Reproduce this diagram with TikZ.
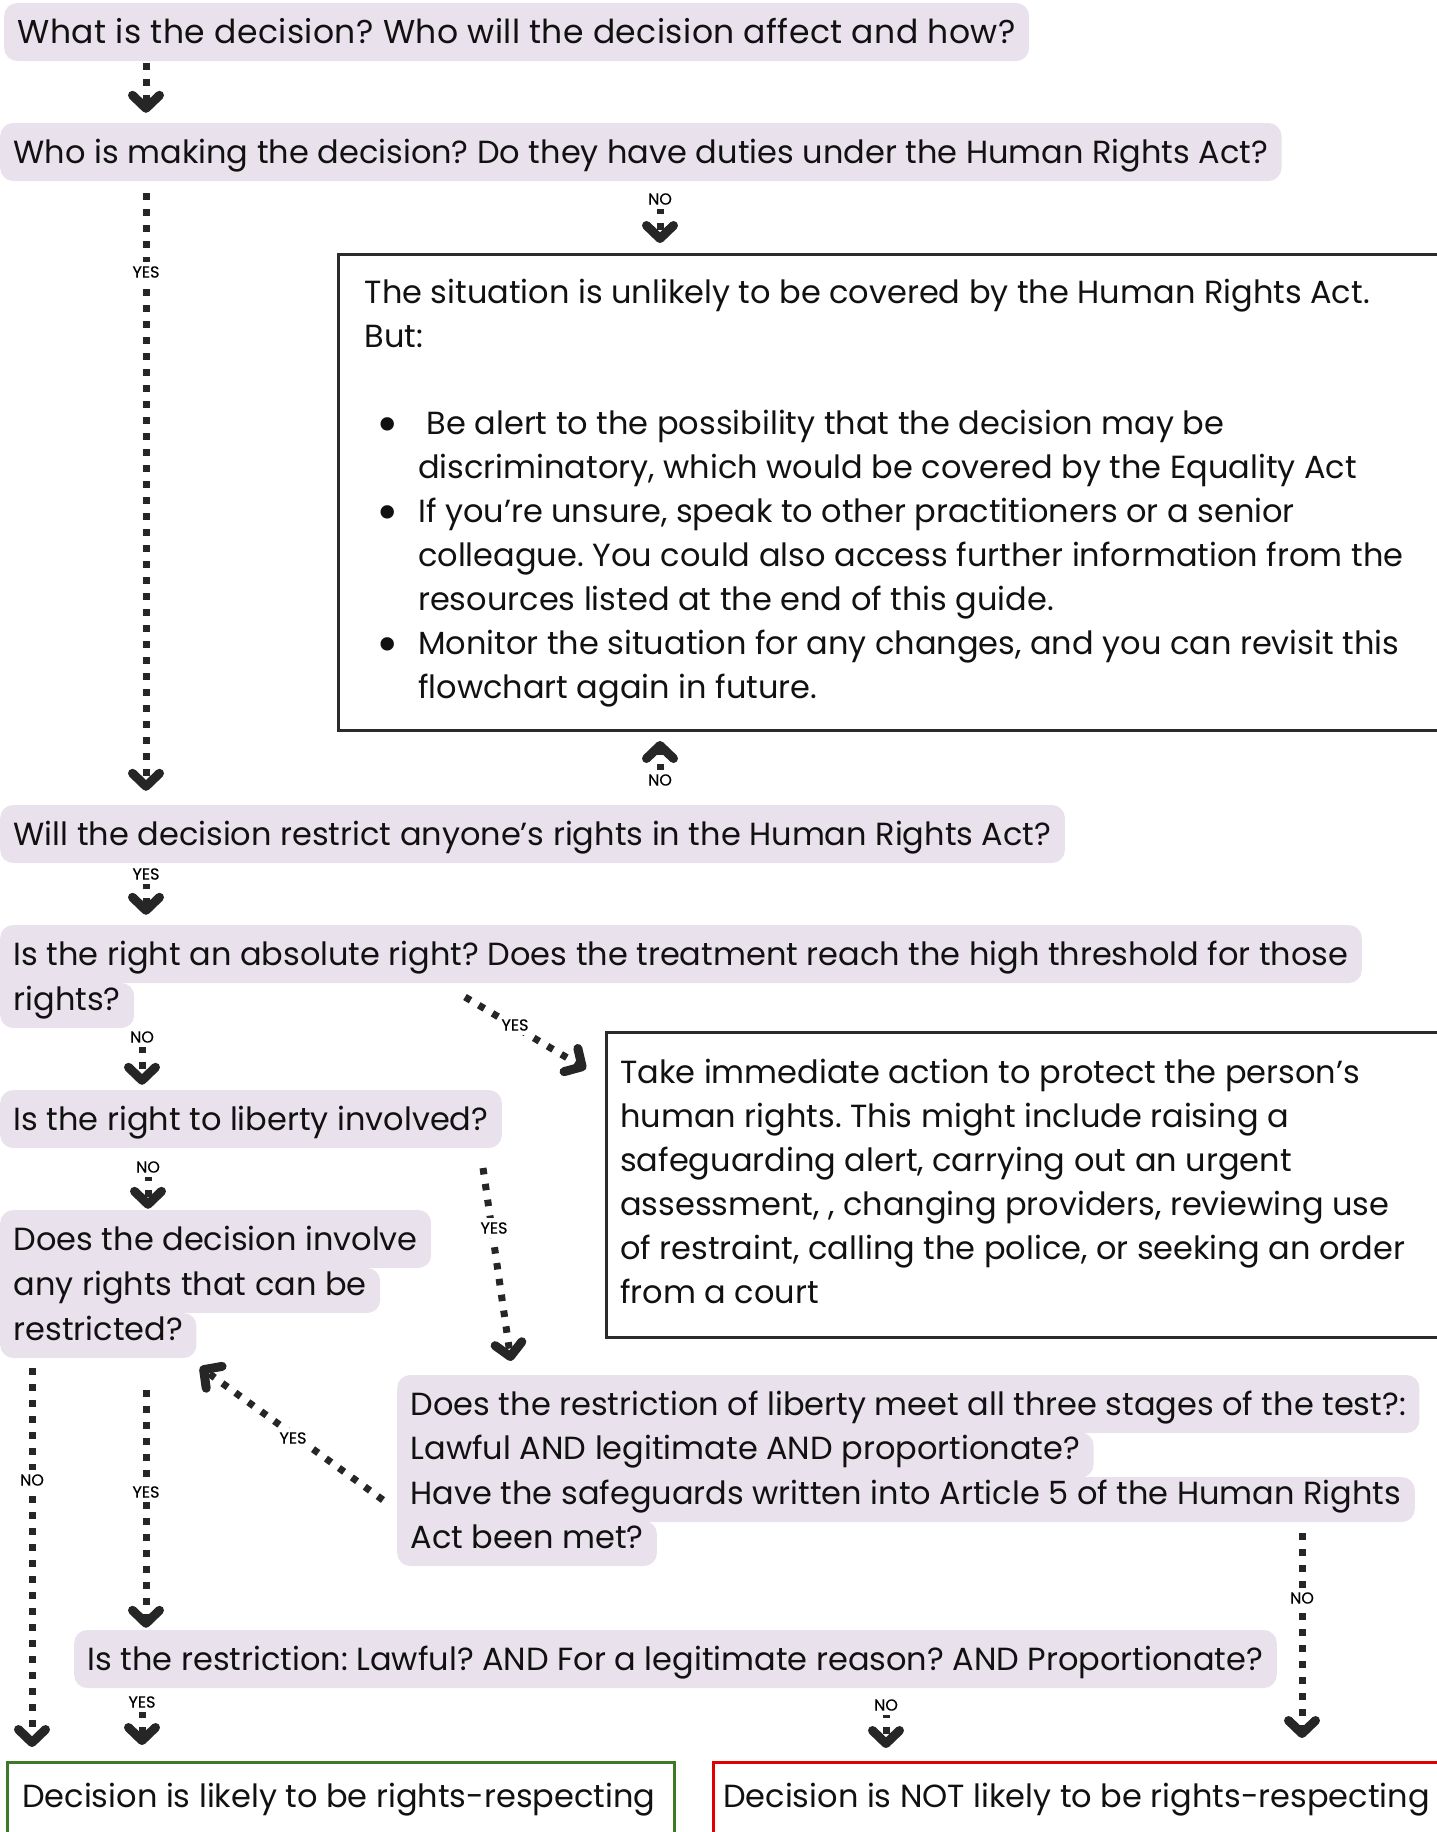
\documentclass[tikz,border=0pt]{standalone}
\usepackage{fontspec}
\setmainfont{Poppins}
\usetikzlibrary{arrows.meta,calc}
\definecolor{pinkc}{HTML}{E9E1EC}
\definecolor{arrowc}{HTML}{262626}
\definecolor{textc}{HTML}{111111}
\definecolor{framec}{HTML}{2B2B2B}
\definecolor{greenc}{HTML}{3C7A28}
\definecolor{redc}{HTML}{E00000}
\newcommand{\mainsz}{\fontsize{32}{44}\selectfont\frenchspacing}
\newcommand{\lblsz}{\fontsize{16}{18}\selectfont\addfontfeature{FakeBold=0.5}}
\newcommand{\bigbullet}{\raisebox{-7.6pt}{\scalebox{1.7}{•}}}
\pgfdeclarelayer{bg}
\pgfsetlayers{bg,main}
\begin{document}
\begin{tikzpicture}[x=1pt,y=-1pt,
 pill/.style={fill=pinkc, rounded corners=13pt, anchor=base west, inner xsep=13.5pt, inner ysep=0pt, text height=40pt, text depth=18pt, font=\mainsz, text=textc},
 pillc/.style={pill, text height=27pt},
 txt/.style={anchor=base west, inner sep=0pt, font=\mainsz, text=textc},
 bul/.style={anchor=base, inner sep=0pt, font=\mainsz, text=textc},
 frame/.style={draw=framec, line width=3pt, anchor=north west, inner sep=0pt},
 arr/.style={draw=arrowc, line width=7pt, dash pattern=on 6.5pt off 9.5pt, -{Straight Barb[length=13pt,width=27pt,line width=9pt,round]}},
 lbl/.style={fill=white, font=\lblsz, text=black, inner xsep=2.5pt, inner ysep=4.5pt}]
\useasboundingbox (0,0) rectangle (1437,1832);
\clip (0,0) rectangle (1437,1832);

% question pills
\node[pill, font=\fontsize{33}{44}\selectfont\frenchspacing\addfontfeature{LetterSpace=1.3}] (q1) at (4,43) {What is the decision? Who will the decision affect and how?};
\node[pill] (q2) at (0,163) {Who is making the decision? Do they have duties under the Human Rights Act?};
\node[pill] (q4) at (0,845) {Will the decision restrict anyone’s rights in the Human Rights Act?};
\node[pill] (q5a) at (0,965) {Is the right an absolute right? Does the treatment reach the high threshold for those};
\node[pillc] (q5b) at (0,1010) {rights?};
\node[pill] (q7) at (0,1130) {Is the right to liberty involved?};
\node[pill] (q8a) at (0,1250) {Does the decision involve};
\node[pillc] (q8b) at (0,1295) {any rights that can be};
\node[pillc] (q8c) at (0,1340) {restricted?};
\node[pill] (q9a) at (397,1415) {Does the restriction of liberty meet all three stages of the test?:};
\node[pillc] (q9b) at (397,1459.5) {Lawful AND legitimate AND proportionate?};
\node[pillc] (q9c) at (397,1504) {Have the safeguards written into Article 5 of the Human Rights};
\node[pillc] (q9d) at (397,1548) {Act been met?};
\node[pill] (q10) at (74,1670) {Is the restriction: Lawful? AND For a legitimate reason? AND Proportionate?};

\begin{pgfonlayer}{bg}
\fill[pinkc] (q5a.west) rectangle ([xshift=13pt]q5b.west);
\fill[pinkc] (q8a.west) rectangle ([xshift=13pt]q8c.west);
\fill[pinkc] (q9a.west) rectangle ([xshift=13pt]q9d.west);
\end{pgfonlayer}

% framed boxes
\node[frame, minimum width=1120pt, minimum height=476.5pt] (b3) at (336.5,252.5) {};
\node[txt] (t3a) at (364.5,303) {The situation is unlikely to be covered by the Human Rights Act.};
\node[txt] (t3b) at (364.5,347) {But:};
\node[bul] (u3a) at (388,434.5) {\bigbullet};
\node[txt] (t3c) at (426.5,434.5) {Be alert to the possibility that the decision may be};
\node[txt] (t3d) at (418,478.5) {discriminatory, which would be covered by the Equality Act};
\node[bul] (u3b) at (388,522.5) {\bigbullet};
\node[txt] (t3e) at (418,522.5) {If you’re unsure, speak to other practitioners or a senior};
\node[txt] (t3f) at (418,566.5) {colleague. You could also access further information from the};
\node[txt] (t3g) at (418,610.5) {resources listed at the end of this guide.};
\node[bul] (u3c) at (388,654.5) {\bigbullet};
\node[txt] (t3h) at (418,654.5) {Monitor the situation for any changes, and you can revisit this};
\node[txt] (t3i) at (418,698.5) {flowchart again in future.};

\node[frame, minimum width=850pt, minimum height=305pt] (b6) at (605,1031) {};
\node[txt] (t6a) at (620,1083) {Take immediate action to protect the person’s};
\node[txt] (t6b) at (620,1127) {human rights. This might include raising a};
\node[txt] (t6c) at (620,1171) {safeguarding alert, carrying out an urgent};
\node[txt] (t6d) at (620,1215) {assessment, , changing providers, reviewing use};
\node[txt] (t6e) at (620,1259) {of restraint, calling the police, or seeking an order};
\node[txt] (t6f) at (620,1303) {from a court};

\node[frame, draw=greenc, minimum width=667pt, minimum height=100pt] (r1) at (6,1761) {};
\node[txt] (r1t) at (22,1807.5) {Decision is likely to be rights-respecting};
\node[frame, draw=redc, minimum width=760pt, minimum height=100pt] (r2) at (711.5,1761) {};
\node[txt] (r2t) at (723,1807.5) {Decision is NOT likely to be rights-respecting};

% columns
\coordinate (cA) at (146,0);
\coordinate (cB) at (660,0);
\coordinate (cC) at (142,0);
\coordinate (cD) at (148,0);
\coordinate (cE) at (32,0);
\coordinate (cF) at (1302,0);
\coordinate (cG) at (886,0);
\coordinate (a7s) at (465,997);
\coordinate (a7e) at (586,1069);
\coordinate (a9s) at (483,1168);
\coordinate (a9e) at (511,1361);
\coordinate (a12s) at (383,1500);
\coordinate (a12e) at (200,1367);

% connectors
\draw[arr, shorten <=2pt, shorten >=10pt] (q1.south -| cA) -- (q2.north -| cA);
\draw[arr, shorten <=12pt, shorten >=14pt] (q2.south -| cA) -- (q4.north -| cA);
\draw[arr, shorten <=10pt, shorten >=9.5pt] (q2.south -| cB) -- (b3.north -| cB);
\draw[arr, shorten <=18pt, shorten >=9pt] (q4.north -| cB) -- (b3.south -| cB);
\draw[arr, shorten <=3pt, shorten >=10pt] (q4.south -| cA) -- (q5a.north -| cA);
\draw[arr, shorten <=2pt, shorten >=5pt] (q5b.south -| cC) -- (q7.north -| cC);
\draw[arr] (a7s) -- (a7e);
\draw[arr, shorten <=10pt, shorten >=1pt] (q7.south -| cD) -- (q8a.north -| cD);
\draw[arr] (a9s) -- (a9e);
\draw[arr, shorten <=10pt, shorten >=14pt] (q8c.south -| cE) -- (r1.north -| cE);
\draw[arr, shorten <=32pt, shorten >=2pt] (q8c.south -| cA) -- (q10.north -| cA);
\draw[arr] (a12s) -- (a12e);
\draw[arr, shorten <=11pt, shorten >=23pt] (q9c.south -| cF) -- (r2.north -| cF);
\draw[arr, shorten <=7pt, shorten >=16pt] (q10.south -| cC) -- (r1.north -| cC);
\draw[arr, shorten <=7pt, shorten >=13pt] (q10.south -| cG) -- (r2.north -| cG);

% labels
\node[lbl] (l2) at (146,272) {YES};
\node[lbl] (l3) at (660,199) {NO};
\node[lbl] (l4) at (660,780) {NO};
\node[lbl] (l5) at (146,874) {YES};
\node[lbl] (l6) at (142,1037) {NO};
\node[lbl] (l7) at (515,1025) {YES};
\node[lbl] (l8) at (148,1167) {NO};
\node[lbl] (l9) at (494,1228) {YES};
\node[lbl] (l10) at (32,1480) {NO};
\node[lbl] (l11) at (146,1492) {YES};
\node[lbl] (l12) at (293,1438) {YES};
\node[lbl] (l13) at (1302,1598) {NO};
\node[lbl] (l14) at (142,1702) {YES};
\node[lbl] (l15) at (886,1705) {NO};
\end{tikzpicture}
\end{document}
